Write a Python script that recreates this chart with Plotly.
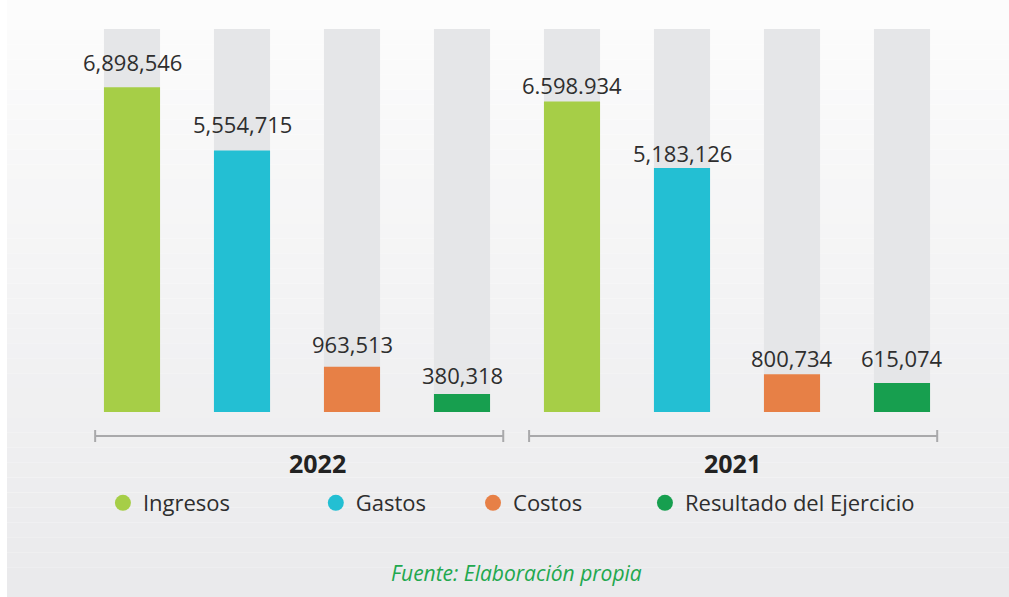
import plotly.graph_objects as go

# datos
ANIOS = ["2022", "2021"]
CONCEPTOS = ["Ingresos", "Gastos", "Costos", "Resultado del Ejercicio"]
COLORES = ["#a6ce47", "#23bfd3", "#e78046", "#179f4f"]
VALORES_2022 = [6898546, 5554715, 963513, 380318]
VALORES_2021 = [6598934, 5183126, 800734, 615074]
ETIQUETAS_2022 = ["6,898,546", "5,554,715", "963,513", "380,318"]
ETIQUETAS_2021 = ["6.598.934", "5,183,126", "800,734", "615,074"]
MAXIMO_FONDO = 8140000

# estilo
FUENTE = "Open Sans"
GRIS_FONDO = "#e5e6e8"
DESPLAZ_ETIQ = [25, 27, 23, 19, 16, 15, 16, 25]   # px sobre la barra
CENTRO_CORCHETE = [1.52, 5.465]
W, H = 1009, 597
PX_X = 110          # px por categoría
BASE_PX = 412       # pixel y de la base
ESCALA = 21250      # valor por pixel

valores = [VALORES_2022, VALORES_2021]
etiquetas = [ETIQUETAS_2022, ETIQUETAS_2021]

fig = go.Figure()

# barras grises de fondo
pos_todas = [g * 4 + i for g in range(len(ANIOS)) for i in range(len(CONCEPTOS))]
fig.add_trace(go.Bar(
    x=pos_todas,
    y=[MAXIMO_FONDO] * len(pos_todas),
    marker=dict(color=GRIS_FONDO, line=dict(width=0)),
    width=0.51,
    showlegend=False,
    hoverinfo='skip'
))

for i, (nombre, color) in enumerate(zip(CONCEPTOS, COLORES)):
    fig.add_trace(go.Bar(
        x=[g * 4 + i for g in range(len(ANIOS))],
        y=[valores[g][i] for g in range(len(ANIOS))],
        marker=dict(color=color, line=dict(width=0)),
        width=0.51,
        name=nombre,
        showlegend=False
    ))

# leyendas: una por concepto para fijar la posición
leyenda_x = [0.102, 0.313, 0.4688, 0.6392]
for i, (nombre, color) in enumerate(zip(CONCEPTOS, COLORES)):
    fig.add_trace(go.Scatter(
        x=[None], y=[None],
        mode='markers',
        marker=dict(color=color, size=20, symbol='circle'),
        name=nombre,
        legend='legend' if i == 0 else f'legend{i + 1}'
    ))

anotaciones = []
k = 0
for g in range(len(ANIOS)):
    for i in range(len(CONCEPTOS)):
        anotaciones.append(dict(
            x=g * 4 + i, y=valores[g][i],
            text=etiquetas[g][i],
            showarrow=False,
            yanchor='middle',
            yshift=DESPLAZ_ETIQ[k],
            font=dict(family=FUENTE, size=22, color='#2e2e2e')
        ))
        k += 1

# años bajo los corchetes
for g, (anio, dx) in enumerate(zip(ANIOS, [20, -5])):
    anotaciones.append(dict(
        x=g * 4 + 1.5, y=1 - 463 / H, yref='paper',
        yanchor='middle',
        text=f'<b>{anio}</b>',
        showarrow=False, xshift=dx,
        font=dict(family=FUENTE, size=25, color='#222222')
    ))

anotaciones.append(dict(
    x=516 / W, y=1 - 573 / H, xref='paper', yref='paper',
    yanchor='middle',
    text='<i>Fuente: Elaboración propia</i>',
    showarrow=False,
    font=dict(family=FUENTE, size=21, color='#22a84e')
))

# fondo degradado
formas = []
n = 40
arriba, abajo = (252, 252, 252), (234, 234, 236)
for j in range(n):
    t = j / (n - 1)
    c = tuple(round(a + (b - a) * t) for a, b in zip(arriba, abajo))
    formas.append(dict(
        type='rect', xref='paper', yref='paper',
        x0=7 / W, x1=1, y0=1 - (j + 1) / n, y1=1 - j / n,
        fillcolor=f'rgb{c}', line=dict(width=0), layer='below'
    ))

# corchetes de grupo
y_c = 1 - 436 / H
y_t0, y_t1 = 1 - 430 / H, 1 - 442 / H
for cx in CENTRO_CORCHETE:
    x0, x1 = cx - 1.855, cx + 1.855
    linea = dict(color='#a9a9ab', width=2)
    formas.append(dict(type='line', xref='x', yref='paper', x0=x0, x1=x1, y0=y_c, y1=y_c, line=linea))
    formas.append(dict(type='line', xref='x', yref='paper', x0=x0, x1=x0, y0=y_t0, y1=y_t1, line=linea))
    formas.append(dict(type='line', xref='x', yref='paper', x0=x1, x1=x1, y0=y_t0, y1=y_t1, line=linea))

x_min = -132 / PX_X
x_max = x_min + W / PX_X
y_max = BASE_PX * ESCALA
y_min = -(H - BASE_PX) * ESCALA

leyenda_base = dict(
    orientation='h', yanchor='middle', y=1 - 503 / H,
    xanchor='left', bgcolor='rgba(0,0,0,0)',
    itemsizing='trace',
    font=dict(family=FUENTE, size=22, color='#2e2e2e')
)
ley = {}
for i, lx in enumerate(leyenda_x):
    ley['legend' if i == 0 else f'legend{i + 1}'] = dict(leyenda_base, x=lx)

fig.update_layout(
    width=W, height=H,
    margin=dict(l=0, r=0, t=0, b=0),
    barmode='overlay',
    paper_bgcolor='white',
    plot_bgcolor='rgba(0,0,0,0)',
    xaxis=dict(range=[x_min, x_max], visible=False, fixedrange=True),
    yaxis=dict(range=[y_min, y_max], visible=False, fixedrange=True),
    annotations=anotaciones,
    shapes=formas,
    font=dict(family=FUENTE),
    **ley
)

# sin margen de página para que la figura ocupe toda la ventana
fig.write_html(
    "out.html",
    config={'displayModeBar': False},
    post_script="document.body.style.margin='0';document.body.style.overflow='hidden';"
)
